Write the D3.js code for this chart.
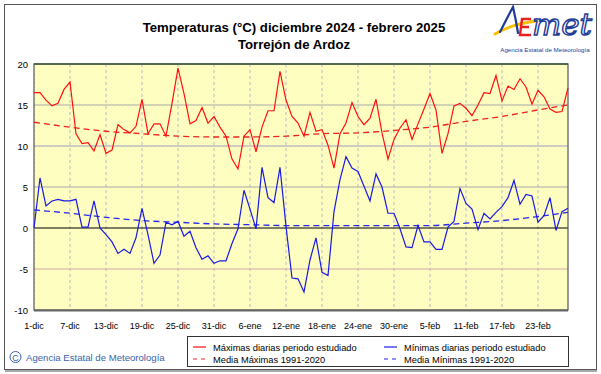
<!DOCTYPE html>
<html>
<head>
<meta charset="utf-8">
<script src="https://cdn.jsdelivr.net/npm/d3@7"></script>
<style>
body { margin: 0; background: #fff; }
svg { display: block; font-family: Arial, "Liberation Sans", sans-serif; }
</style>
</head>
<body>
<div id="chart"></div>
<script>
// daily values, 1-dic-2024 .. 28-feb-2025 (90 days)
var tmax = [16.5,16.5,15.6,14.9,15.2,16.9,17.8,11.5,10.3,10.4,
            9.4,11.4,9.1,9.5,12.6,12.0,11.6,12.4,15.7,11.5,
            12.7,12.7,11.2,15.2,19.5,16.4,12.7,13.1,14.7,12.8,
            13.6,12.3,11.2,8.4,7.2,11.2,12.0,9.3,12.3,14.3,
            14.3,19.1,15.6,13.6,12.8,11.2,14.1,11.8,12.0,10.1,
            7.3,11.5,12.8,15.3,13.6,12.6,13.4,15.7,11.6,8.4,
            10.8,12.2,13.2,10.8,12.7,14.5,16.4,14.4,9.1,11.5,
            14.9,15.2,14.6,13.7,15.0,16.5,16.4,18.6,15.5,17.3,
            16.9,18.2,17.2,15.1,16.8,16.0,14.5,14.1,14.2,17.1];

var tmin = [0.0,6.1,2.7,3.3,3.5,3.3,3.3,3.5,0.1,0.1,
            3.3,0.0,-0.8,-1.7,-3.1,-2.6,-3.1,-1.2,2.4,-0.8,
            -4.3,-3.3,0.7,0.4,0.8,-1.0,-0.4,-2.4,-3.8,-3.4,
            -4.3,-4.0,-4.0,-1.9,-0.1,4.6,2.3,-0.1,7.4,3.7,
            3.1,7.4,0.2,-6.1,-6.2,-7.8,-3.9,-1.2,-5.4,-5.8,
            2.0,5.9,8.7,7.3,6.9,5.1,3.3,6.6,5.0,1.8,
            1.8,-0.1,-2.3,-2.4,0.3,-1.7,-1.7,-2.6,-2.6,0.1,
            0.8,4.8,3.0,2.3,-0.2,1.8,1.1,1.9,2.6,3.7,
            5.8,2.9,4.1,3.9,0.7,1.5,3.7,-0.3,2.0,2.4];

// 1991-2020 means, read at these day offsets
var climDays = [0,6,12,18,24,30,36,42,48,54,60,66,72,78,84,89];
var meanMax = [12.9,12.3,11.8,11.5,11.2,11.1,11.1,11.2,11.5,11.6,11.9,12.3,13.0,13.6,14.4,15.0];
var meanMin = [2.2,1.8,1.3,0.9,0.7,0.5,0.4,0.3,0.3,0.3,0.3,0.3,0.6,0.9,1.4,1.9];

var tickLabels = ["1-dic","7-dic","13-dic","19-dic","25-dic","31-dic","6-ene","12-ene",
                  "18-ene","24-ene","30-ene","5-feb","11-feb","17-feb","23-feb"];
var yTicks = [20,15,10,5,0,-5,-10];

var W = 601, H = 374;
var L = 34, R = 568, T = 64, B = 310;

var svg = d3.select("#chart").append("svg")
    .attr("width", W)
    .attr("height", H);

// outer frame
svg.append("rect")
    .attr("x", 4.5).attr("y", 4.5)
    .attr("width", 592).attr("height", 365)
    .attr("fill", "#fff").attr("stroke", "#555");
svg.append("line").attr("x1", 5).attr("x2", 597).attr("y1", 371).attr("y2", 371)
    .attr("stroke", "#aaa").attr("stroke-width", 2);

var start = new Date(2024, 11, 1);
function dayDate(i) { return d3.timeDay.offset(start, i); }

var x = d3.scaleTime()
    .domain([start, dayDate(89)])
    .range([L, R]);
var y = d3.scaleLinear()
    .domain([-10, 20])
    .range([B, T]);

// plot background (slightly dithered yellow)
var defs = svg.append("defs");
var pat = defs.append("pattern").attr("id", "dots")
    .attr("width", 4).attr("height", 4).attr("patternUnits", "userSpaceOnUse");
pat.append("rect").attr("width", 4).attr("height", 4).attr("fill", "#ffffc2");
pat.append("rect").attr("x", 1).attr("y", 1).attr("width", 1).attr("height", 1).attr("fill", "#f4f4bc");
pat.append("rect").attr("x", 3).attr("y", 3).attr("width", 1).attr("height", 1).attr("fill", "#f4f4bc");

svg.append("rect")
    .attr("x", L).attr("y", T)
    .attr("width", R - L).attr("height", B - T)
    .attr("fill", "url(#dots)");

// vertical dashed grid
var tickDates = tickLabels.map(function(d, i) { return dayDate(i * 6); });
svg.append("g").selectAll("line")
    .data(tickDates.slice(1))
    .enter().append("line")
    .attr("x1", function(d) { return x(d); })
    .attr("x2", function(d) { return x(d); })
    .attr("y1", T).attr("y2", B)
    .attr("stroke", "#cfcfc6")
    .attr("stroke-width", 1.5)
    .attr("stroke-dasharray", "3,3");

// horizontal grid
var gridColor = {"15": "#a8a8a8", "10": "#9c9cc4", "5": "#a8a8a8", "-5": "#d4a8a8"};
svg.append("g").selectAll("line")
    .data([15, 10, 5, -5])
    .enter().append("line")
    .attr("x1", L).attr("x2", R)
    .attr("y1", function(d) { return y(d); })
    .attr("y2", function(d) { return y(d); })
    .attr("stroke", function(d) { return gridColor[d]; });

// zero line
svg.append("line")
    .attr("x1", L).attr("x2", R)
    .attr("y1", y(0)).attr("y2", y(0))
    .attr("stroke", "#000").attr("stroke-width", 1.2);

// plot border
svg.append("rect")
    .attr("x", L).attr("y", T)
    .attr("width", R - L).attr("height", B - T)
    .attr("fill", "none").attr("stroke", "#555").attr("stroke-width", 1.2);
svg.append("line").attr("x1", L).attr("x2", R).attr("y1", T).attr("y2", T)
    .attr("stroke", "#3c5a3c").attr("stroke-width", 1.5);
svg.append("line").attr("x1", L).attr("x2", R).attr("y1", B + 0.5).attr("y2", B + 0.5)
    .attr("stroke", "#666").attr("stroke-width", 2);

// lines
var dayLine = d3.line()
    .x(function(d, i) { return x(dayDate(i)); })
    .y(function(d) { return y(d); });
var climLine = d3.line()
    .x(function(d, i) { return x(dayDate(climDays[i])); })
    .y(function(d) { return y(d); })
    .curve(d3.curveMonotoneX);

svg.append("path").datum(meanMax).attr("d", climLine)
    .attr("fill", "none").attr("stroke", "#ee2020").attr("stroke-width", 1.3)
    .attr("stroke-dasharray", "6,4");
svg.append("path").datum(meanMin).attr("d", climLine)
    .attr("fill", "none").attr("stroke", "#2828e8").attr("stroke-width", 1.3)
    .attr("stroke-dasharray", "6,4");
svg.append("path").datum(tmax).attr("d", dayLine)
    .attr("fill", "none").attr("stroke", "#ff1010").attr("stroke-width", 1.2);
svg.append("path").datum(tmin).attr("d", dayLine)
    .attr("fill", "none").attr("stroke", "#1a1ae6").attr("stroke-width", 1.2);

// axes labels
svg.append("g").selectAll("text")
    .data(yTicks)
    .enter().append("text")
    .attr("x", 28)
    .attr("y", function(d) { return y(d) + 3.5; })
    .attr("text-anchor", "end")
    .attr("font-size", "9.5px")
    .attr("fill", "#000")
    .text(function(d) { return d; });

svg.append("g").selectAll("text")
    .data(tickLabels)
    .enter().append("text")
    .attr("x", function(d, i) { return x(tickDates[i]); })
    .attr("y", 329)
    .attr("text-anchor", "middle")
    .attr("font-size", "9px")
    .attr("fill", "#000")
    .text(function(d) { return d; });

// titles
svg.append("text").attr("x", 294).attr("y", 32)
    .attr("text-anchor", "middle").attr("font-size", "13.2px").attr("font-weight", "bold")
    .text("Temperaturas (°C) diciembre 2024 - febrero 2025");
svg.append("text").attr("x", 294).attr("y", 49)
    .attr("text-anchor", "middle").attr("font-size", "13.2px").attr("font-weight", "bold")
    .text("Torrejón de Ardoz");

// legend
svg.append("rect")
    .attr("x", 187.5).attr("y", 336.5)
    .attr("width", 381).attr("height", 30)
    .attr("fill", "#fff").attr("stroke", "#333");
var legend = [
    {label: "Máximas diarias periodo estudiado", color: "#ff1010", dash: null, lx: 193, ly: 347},
    {label: "Media Máximas 1991-2020", color: "#ee2020", dash: "4,4", lx: 193, ly: 359},
    {label: "Mínimas diarias periodo estudiado", color: "#1a1ae6", dash: null, lx: 384, ly: 347},
    {label: "Media Mínimas 1991-2020", color: "#2828e8", dash: "4,4", lx: 384, ly: 359}
];
var lg = svg.append("g").selectAll("g").data(legend).enter().append("g");
lg.append("line")
    .attr("x1", function(d) { return d.lx; })
    .attr("x2", function(d) { return d.lx + 13; })
    .attr("y1", function(d) { return d.ly; })
    .attr("y2", function(d) { return d.ly; })
    .attr("stroke", function(d) { return d.color; })
    .attr("stroke-width", 1.2)
    .attr("stroke-dasharray", function(d) { return d.dash; });
lg.append("text")
    .attr("x", function(d) { return d.lx + 20; })
    .attr("y", function(d) { return d.ly + 3.5; })
    .attr("font-size", "9.3px")
    .attr("fill", "#000")
    .text(function(d) { return d.label; });

// copyright
svg.append("circle").attr("cx", 15.5).attr("cy", 357).attr("r", 5.5)
    .attr("fill", "none").attr("stroke", "#3a5fa8").attr("stroke-width", 1);
svg.append("text").attr("x", 15.5).attr("y", 360.5).attr("text-anchor", "middle")
    .attr("font-size", "9px").attr("fill", "#3a5fa8").text("C");
svg.append("text").attr("x", 26).attr("y", 361)
    .attr("font-size", "9.6px").attr("fill", "#3a5fa8")
    .text("Agencia Estatal de Meteorología");

// AEMET logo
var logo = svg.append("g");
logo.append("path")
    .attr("d", "M495,34 Q512,24 536,21")
    .attr("fill", "none").attr("stroke", "#f5c000").attr("stroke-width", 3).attr("stroke-linecap", "round");
logo.append("path")
    .attr("d", "M500,32 Q507,18 513,7 Q516,20 518,33")
    .attr("fill", "none").attr("stroke", "#1e3c96").attr("stroke-width", 2.2).attr("stroke-linecap", "round");
logo.append("path")
    .attr("d", "M531,19 L522,19 L520,35 L531,35 M521,27 L529,27")
    .attr("fill", "none").attr("stroke", "#e82020").attr("stroke-width", 2.4);
logo.append("text").attr("x", 532).attr("y", 35)
    .attr("font-size", "30px").attr("font-style", "italic")
    .attr("font-family", "'DejaVu Serif', serif")
    .attr("fill", "none").attr("stroke", "#1e3c96").attr("stroke-width", 1.4)
    .attr("textLength", 60).attr("lengthAdjust", "spacingAndGlyphs")
    .text("met");
logo.append("text").attr("x", 545).attr("y", 52)
    .attr("text-anchor", "middle").attr("font-size", "6.2px").attr("fill", "#1e3c96")
    .text("Agencia Estatal de Meteorología");
</script>
</body>
</html>
